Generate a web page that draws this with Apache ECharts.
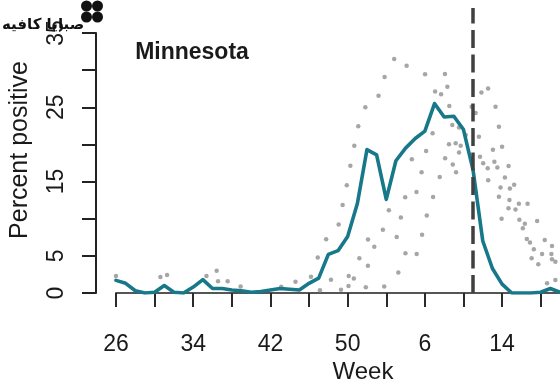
<!DOCTYPE html>
<html>
<head>
<meta charset="utf-8">
<script src="https://cdn.jsdelivr.net/npm/echarts@6/dist/echarts.min.js"></script>
<style>
html,body{margin:0;padding:0;background:#fff;}
#chart{width:560px;height:389px;}
</style>
</head>
<body>
<div id="chart"></div>
<script>
// ---- data ----
const chartTitle = 'Minnesota';
const yTitle = 'Percent positive';
const xTitle = 'Week';
const firstWeek = 26;
const weeksPerYear = 52;
const xTickIdx = [0, 4, 8, 12, 16, 20, 24, 28, 32, 36, 40, 44];
const xLabelIdx = [0, 8, 16, 24, 32, 40];
const yTickValues = [0, 5, 10, 15, 20, 25, 30, 35];
const yLabelValues = [0, 5, 15, 25, 35];
const currentWeekIdx = 37;

// current season (weeks since week 26)
const lineIdx = [0,1,2,3,4,5,6,7,8,9,10,11,12,13,14,15,16,17,18,19,20,21,22,23,24,25,26,27,28,29,30,31,32,33,34,35,36,37,38,39,40,41,42,43,44,45,46];
const lineValues = [1.7,1.3,0.3,0,0.1,1.0,0.1,0,0.8,1.8,0.6,0.6,0.4,0.3,0.1,0.2,0.4,0.6,0.5,0.4,1.3,2.0,5.2,5.7,7.6,12.0,19.3,18.6,12.6,17.8,19.5,20.8,21.8,25.5,23.7,23.8,22.0,16.5,7.0,3.3,1.2,0,0,0,0.1,0.6,0.1];

// previous seasons (gray points)
const dotIdx = [28.82,30.11,27.83,32.02,34.08,34.33,33.06,33.68,27.20,25.83,25.10,24.69,24.28,23.91,23.48,23.07,21.77,20.90,20.20,18.60,
  34.53,32.80,32.13,30.65,31.66,33.54,32.85,31.13,29.96,34.10,34.89,34.50,35.19,35.71,35.54,35.23,34.84,35.54,36.23,36.85,
  37.26,37.86,38.55,39.32,39.67,37.60,40.00,39.05,37.71,38.04,39.20,39.51,40.67,38.51,38.56,40.29,41.25,40.81,39.84,39.67,
  40.76,40.66,41.39,41.74,42.64,39.95,41.79,43.63,42.36,42.15,42.56,42.89,44.42,43.29,45.17,44.14,45.11,43.06,45.17,45.52,
  43.75,44.66,45.52,22.27,23.31,21.13,24.11,24.64,24.09,25.21,26.10,25.88,26.11,26.76,27.65,28.27,27.79,29.25,29.08,29.51,
  29.99,31.15,32.20,31.71,0.00,4.60,5.29,9.37,10.43,10.57,11.57,12.91,17.12];
const dotValues = [31.49,30.59,29.07,29.45,29.47,27.77,27.12,26.74,26.54,24.99,22.44,19.83,17.13,14.51,11.84,9.22,7.23,4.78,2.19,1.52,
  25.17,21.49,19.11,18.01,16.24,15.61,12.92,13.59,12.88,18.13,17.29,20.03,20.15,19.83,18.91,16.24,22.61,22.27,21.27,25.07,
  24.23,26.98,27.52,25.07,22.38,21.04,19.69,19.30,18.34,17.46,17.67,16.89,17.09,16.78,15.17,15.55,14.58,14.06,14.20,12.96,
  12.52,11.40,11.24,12.02,12.02,9.99,9.87,9.69,9.31,8.71,7.27,6.80,7.13,5.88,6.33,5.25,5.25,4.67,4.54,4.21,
  3.88,1.31,1.75,1.79,0.44,0.36,2.29,1.95,0.94,4.67,3.66,0.77,7.20,6.23,8.52,11.13,0.87,2.76,7.54,10.16,
  5.34,5.25,10.43,7.85,2.29,2.15,2.42,2.29,2.99,1.59,1.59,0.87,0.85];

const watermarkText = 'صبايا كافيه';

// ---- chart ----
const FONT = '"Liberation Sans", Arial, Helvetica, sans-serif';
const X_MIN = 0, X_MAX = 46;
const Y_MAX_PLOT = 38.365; // plot region extends above 35
const weekLabel = i => { let w = firstWeek + i; if (w > weeksPerYear) w -= weeksPerYear; return String(w); };

const chart = echarts.init(document.getElementById('chart'), null, {renderer: 'canvas'});
chart.setOption({
  animation: false,
  backgroundColor: '#ffffff',
  grid: [
    {left: 116, top: 8, width: 445.3, height: 285, containLabel: false},
    {left: 96, top: 33, width: 1, height: 260, containLabel: false}
  ],
  xAxis: [
    {
      gridIndex: 0, type: 'value', min: X_MIN, max: X_MAX,
      axisLine: {show: true, lineStyle: {color: '#555', width: 2}},
      axisTick: {show: true, inside: false, length: 14, customValues: xTickIdx, lineStyle: {color: '#2a2a2a', width: 2}},
      axisLabel: {show: true, customValues: xLabelIdx, formatter: v => weekLabel(v), margin: 40,
        fontSize: 23, fontFamily: FONT, color: '#1a1a1a'},
      splitLine: {show: false}
    },
    {gridIndex: 1, type: 'value', min: 0, max: 1, show: false}
  ],
  yAxis: [
    {gridIndex: 0, type: 'value', min: 0, max: Y_MAX_PLOT, show: false},
    {
      gridIndex: 1, type: 'value', min: 0, max: 35,
      axisLine: {show: true, lineStyle: {color: '#222', width: 2}},
      axisTick: {show: true, inside: false, length: 14, customValues: yTickValues, lineStyle: {color: '#222', width: 2}},
      axisLabel: {show: true, customValues: yLabelValues, rotate: 90, margin: 28,
        fontSize: 23, fontFamily: FONT, color: '#1a1a1a'},
      splitLine: {show: false}
    }
  ],
  series: [
    {
      type: 'scatter', xAxisIndex: 0, yAxisIndex: 0,
      data: dotIdx.map((x, i) => [x, dotValues[i]]),
      symbol: 'circle', symbolSize: 4.5,
      itemStyle: {color: '#909090'},
      silent: true, z: 2
    },
    {
      type: 'line', xAxisIndex: 0, yAxisIndex: 0,
      data: lineIdx.map((x, i) => [x, lineValues[i]]),
      showSymbol: false, symbol: 'none',
      lineStyle: {color: '#17788a', width: 3.6, join: 'round', cap: 'round'},
      z: 4,
      markLine: {
        silent: true, symbol: ['none', 'none'], label: {show: false},
        lineStyle: {color: '#404040', width: 3.5, type: [18, 6.5]},
        data: [[{coord: [currentWeekIdx, 0]}, {coord: [currentWeekIdx, Y_MAX_PLOT]}]]
      }
    },
    {type: 'scatter', xAxisIndex: 1, yAxisIndex: 1, data: []}
  ],
  graphic: [
    {type: 'text', x: 192, y: 53, style: {text: chartTitle, font: 'bold 23px ' + FONT, fill: '#1a1a1a', align: 'center', verticalAlign: 'middle'}},
    {type: 'text', x: 20, y: 150, rotation: Math.PI / 2, style: {text: yTitle, font: '25px ' + FONT, fill: '#1a1a1a', align: 'center', verticalAlign: 'middle'}},
    {type: 'text', x: 363, y: 372, style: {text: xTitle, font: '24px ' + FONT, fill: '#1a1a1a', align: 'center', verticalAlign: 'middle'}},
    {type: 'text', x: 2, y: 25, z: 10, style: {text: watermarkText, font: 'bold 15px "DejaVu Sans", sans-serif', fill: '#111', align: 'left', verticalAlign: 'middle'}},
    {type: 'group', x: 92, y: 11, z: 9, children: [
      {type: 'circle', shape: {cx: -5.5, cy: -5, r: 5.5}, style: {fill: '#111'}},
      {type: 'circle', shape: {cx: 5.5, cy: -5, r: 5.5}, style: {fill: '#111'}},
      {type: 'circle', shape: {cx: 5.5, cy: 6, r: 5.5}, style: {fill: '#111'}},
      {type: 'circle', shape: {cx: -5.5, cy: 6, r: 5.5}, style: {fill: '#111'}},
      {type: 'circle', shape: {cx: 0, cy: 0.5, r: 1.8}, style: {fill: '#fff'}}
    ]}
  ]
});
</script>
</body>
</html>
